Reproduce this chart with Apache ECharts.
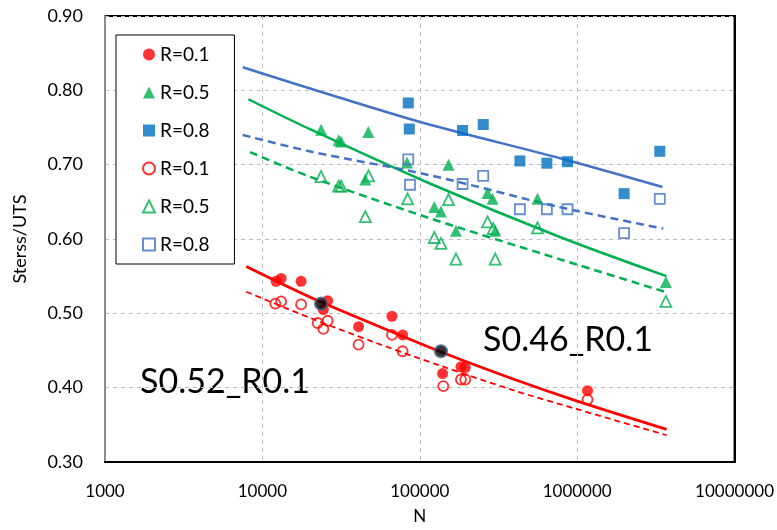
<!DOCTYPE html>
<html>
<head>
<meta charset="utf-8">
<script src="https://cdn.jsdelivr.net/npm/echarts@6/dist/echarts.min.js"></script>
<style>
  html, body { margin: 0; padding: 0; background: #fff; }
  #chart { width: 777px; height: 530px; }
</style>
</head>
<body>
<div id="chart"></div>
<script>
// S-N data: cycles to failure (N) against normalised stress (Stress/UTS)
const xTicks = [1000, 10000, 100000, 1000000, 10000000];
const yTicks = [0.30, 0.40, 0.50, 0.60, 0.70, 0.80, 0.90];

// R = 0.1, filled markers
const r01N = [12220, 13150, 17610, 25980, 24390, 40850, 66590, 77770, 139600, 182600, 194500, 1163000];
const r01S = [0.543, 0.547, 0.543, 0.517, 0.505, 0.482, 0.496, 0.471, 0.419, 0.428, 0.427, 0.396];
// R = 0.5, filled markers
const r05N = [23590, 30510, 31600, 47100, 82930, 45080, 152300, 123600, 136300, 269400, 289900, 169800, 301500, 559700, 3660000];
const r05S = [0.747, 0.733, 0.731, 0.744, 0.703, 0.680, 0.700, 0.643, 0.637, 0.662, 0.654, 0.611, 0.611, 0.654, 0.542];
// R = 0.8, filled markers
const r08N = [84500, 85800, 187000, 253000, 432700, 642100, 868400, 1987000, 3350000];
const r08S = [0.783, 0.748, 0.746, 0.754, 0.705, 0.702, 0.704, 0.661, 0.718];

// R = 0.1, open markers
const r01oN = [12090, 13150, 17610, 22440, 25980, 24390, 40850, 66590, 77770, 141000, 182600, 194500, 1163000];
const r01oS = [0.513, 0.516, 0.512, 0.487, 0.490, 0.479, 0.458, 0.471, 0.449, 0.402, 0.411, 0.411, 0.384];
// R = 0.5, open markers
const r05oN = [23590, 30510, 31600, 47300, 83660, 45080, 152300, 269400, 292900, 123600, 136300, 169800, 301500, 559700, 3660000];
const r05oS = [0.684, 0.671, 0.671, 0.685, 0.654, 0.630, 0.653, 0.623, 0.614, 0.602, 0.594, 0.573, 0.573, 0.615, 0.516];
// R = 0.8, open markers
const r08oN = [84500, 86660, 187000, 253000, 432700, 642100, 868400, 1987000, 3350000];
const r08oS = [0.707, 0.673, 0.674, 0.685, 0.640, 0.640, 0.640, 0.608, 0.654];

// highlighted specimens (S0.52_R0.1 and S0.46_R0.1)
const hlN = [23590, 136300];
const hlS = [0.513, 0.449];

// trend lines
const fitR01N = [7900, 20000, 50000, 133000, 400000, 1000000, 3700000];
const fitR01S = [0.563, 0.522, 0.486, 0.449, 0.411, 0.382, 0.344];
const fitR01oS = [0.529, 0.494, 0.462, 0.430, 0.396, 0.371, 0.336];
const fitR05N = [8150, 19900, 114800, 769000, 3690000];
const fitR05S = [0.788, 0.748, 0.675, 0.603, 0.550];
const fitR05oN = [8350, 19900, 112000, 769000, 3740000];
const fitR05oS = [0.717, 0.684, 0.629, 0.573, 0.528];
const fitR08N = [7500, 30000, 114800, 769000, 3480000];
const fitR08S = [0.831, 0.791, 0.754, 0.709, 0.670];
const fitR08oN = [7500, 19900, 114800, 769000, 3520000];
const fitR08oS = [0.740, 0.718, 0.686, 0.643, 0.614];

const legendText = { f01: 'R=0.1', f05: 'R=0.5', f08: 'R=0.8', o01: 'R=0.1', o05: 'R=0.5', o08: 'R=0.8' };

const RED = '#ff0000', GREEN = '#00b050', BLUE = '#0070c0', BLUE2 = '#4472c4';
const FONT = 'Lato, "Open Sans", sans-serif';

const pairs = (xs, ys) => xs.map((x, i) => [x, ys[i]]);

function scatter(name, xs, ys, symbol, size, color, open) {
  return {
    name, type: 'scatter', data: pairs(xs, ys), symbol, symbolSize: size, z: 5,
    itemStyle: open
      ? { color: 'rgba(255,255,255,0)', borderColor: color, borderWidth: 1.8 }
      : { color: color, borderWidth: 0 }
  };
}
function trend(xs, ys, color, width, dash) {
  return {
    type: 'line', data: pairs(xs, ys), showSymbol: false, smooth: 0.3, z: 4,
    silent: true, legendHoverLink: false,
    lineStyle: { color, width, type: dash || 'solid' }
  };
}

// gridlines only between the frame edges, so the frame stays solid
const innerX = (i) => i > 0 && i < xTicks.length - 1;
const innerY = (i) => i > 0 && i < yTicks.length - 1;
const gridLine = { color: '#bfbfbf', width: 1, type: [4, 4] };

const chart = echarts.init(document.getElementById('chart'), null, { renderer: 'canvas' });
chart.setOption({
  animation: false,
  backgroundColor: '#fff',
  textStyle: { fontFamily: FONT },
  grid: { left: 105, right: 42, top: 16, bottom: 67, show: true, borderColor: '#000', borderWidth: 2, backgroundColor: 'transparent' },
  xAxis: [{
    type: 'log', logBase: 10, min: xTicks[0], max: xTicks[xTicks.length - 1],
    name: 'N', nameLocation: 'middle', nameGap: 46,
    nameTextStyle: { fontSize: 17, color: '#000', fontFamily: FONT },
    axisLine: { show: true, lineStyle: { color: '#000', width: 2 } },
    axisTick: { show: false },
    axisLabel: { margin: 21, fontSize: 17, color: '#000', fontFamily: FONT, formatter: v => String(Math.round(v)) },
    splitLine: { show: true, interval: innerX, lineStyle: gridLine }
  }],
  yAxis: [{
    type: 'value', min: yTicks[0], max: yTicks[yTicks.length - 1], interval: 0.1,
    name: 'Sterss/UTS', nameLocation: 'middle', nameGap: 76,
    nameTextStyle: { fontSize: 18, color: '#000', fontFamily: FONT },
    axisLine: { show: true, lineStyle: { color: '#8c8c8c', width: 2 } },
    axisTick: { show: false },
    axisLabel: { margin: 22, fontSize: 18, color: '#000', fontFamily: FONT, formatter: v => v.toFixed(2) },
    splitLine: { show: true, interval: innerY, lineStyle: gridLine }
  }, {
    // right-hand frame edge
    type: 'value', position: 'right', min: yTicks[0], max: yTicks[yTicks.length - 1], interval: 0.1,
    axisLine: { show: true, lineStyle: { color: '#000', width: 2 } },
    axisTick: { show: false }, axisLabel: { show: false }, splitLine: { show: false }
  }],
  legend: {
    orient: 'vertical', left: 116, top: 35,
    data: ['f01', 'f05', 'f08', 'o01', 'o05', 'o08'],
    formatter: n => legendText[n],
    itemWidth: 12, itemHeight: 12, itemGap: 19,
    padding: [10, 25, 10, 26],
    borderColor: '#000', borderWidth: 1, backgroundColor: '#fff',
    textStyle: { fontSize: 19, color: '#000', fontFamily: FONT },
    selectedMode: false
  },
  graphic: [
    { type: 'text', left: 140, top: 365, style: { text: 'S0.52_R0.1', fontSize: 34, fill: '#000', fontFamily: FONT } },
    { type: 'text', left: 483, top: 323, style: { text: 'S0.46_R0.1', fontSize: 34, fill: '#000', fontFamily: FONT } }
  ],
  series: [
    trend(fitR01N, fitR01S, RED, 2.8),
    trend(fitR01N, fitR01oS, RED, 1.8, [6, 4]),
    trend(fitR05N, fitR05S, GREEN, 2.5),
    trend(fitR05oN, fitR05oS, GREEN, 2.5, [8, 5]),
    trend(fitR08N, fitR08S, BLUE2, 2.5),
    trend(fitR08oN, fitR08oS, BLUE2, 2.5, [8, 5]),
    scatter('f01', r01N, r01S, 'circle', 11, RED, false),
    scatter('f05', r05N, r05S, 'triangle', 12, GREEN, false),
    scatter('f08', r08N, r08S, 'rect', 11, BLUE, false),
    scatter('o01', r01oN, r01oS, 'circle', 10, RED, true),
    scatter('o05', r05oN, r05oS, 'triangle', 11, GREEN, true),
    scatter('o08', r08oN, r08oS, 'rect', 10, BLUE2, true),
    {
      type: 'scatter', data: pairs(hlN, hlS), symbol: 'circle', symbolSize: 12, z: 6,
      itemStyle: { color: '#000', borderColor: '#44607f', borderWidth: 2.2 }
    }
  ]
});
</script>
</body>
</html>
